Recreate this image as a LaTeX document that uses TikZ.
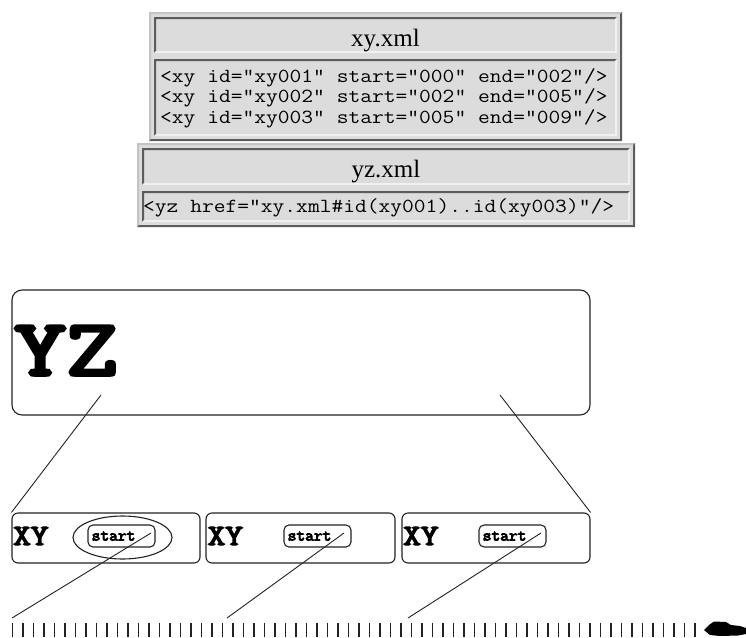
\documentclass[tikz,border=0pt]{standalone}
\usepackage{fontspec}
\usepackage{graphicx}
\setmainfont{Liberation Serif}
\newfontfamily\codefont[FakeStretch=1.143]{Latin Modern Mono}
\newfontfamily\slabfont[FakeBold=4.5]{Latin Modern Mono}
\newfontfamily\slabsmall[FakeBold=5]{Latin Modern Mono}
\usetikzlibrary{shapes.geometric}
\definecolor{tblfill}{HTML}{DCDCDC}
\definecolor{tbllight}{HTML}{C4C4C4}
\definecolor{celllight}{HTML}{F0F0F0}
\definecolor{tbldark}{HTML}{5C5C5C}
\definecolor{ink}{HTML}{222222}
\newcommand\bevelbox[6]{%
  \fill[#5] (#1,#2) -- (#3,#2) -- ({#3-2},{#2+2}) -- ({#1+2},{#2+2}) -- ({#1+2},{#4-2}) -- (#1,#4) -- cycle;
  \fill[#6] (#3,#2) -- (#3,#4) -- (#1,#4) -- ({#1+2},{#4-2}) -- ({#3-2},{#4-2}) -- ({#3-2},{#2+2}) -- cycle;}
\tikzset{
  headtext/.style={anchor=base,inner sep=0,font=\fontsize{25}{25}\selectfont},
  codetext/.style={anchor=base west,inner sep=0,font=\fontsize{20}{20}\codefont},
  rbox/.style={draw=ink,line width=1.1pt,rounded corners=#1,inner sep=0},
  startbox/.style={draw=ink,line width=1.1pt,rounded corners=5pt,inner sep=0,minimum height=22pt,minimum width=67pt},
  conn/.style={draw=ink,line width=0.9pt},
  tickline/.style={draw=ink,line width=1.1pt}
}
\begin{document}
\begin{tikzpicture}[x=1pt,y=-1pt]
\useasboundingbox (0,0) rectangle (746,637);
% ---- xy.xml table
\fill[tblfill] (149,12) rectangle (622,141);
\bevelbox{149}{12}{622}{141}{tbllight}{tbldark}
\bevelbox{154}{17}{617}{53}{tbldark}{celllight}
\bevelbox{154}{59}{617}{136}{tbldark}{celllight}
\node[headtext] (xyhead) at (385.5,46) {xy.xml};
\node[codetext] (xyl1) at (160,82) {<xy id="xy001" start="000" end="002"/>};
\node[codetext] (xyl2) at (160,102.5) {<xy id="xy002" start="002" end="005"/>};
\node[codetext] (xyl3) at (160,123) {<xy id="xy003" start="005" end="009"/>};
% ---- yz.xml table
\fill[tblfill] (137,143) rectangle (635,227);
\bevelbox{137}{143}{635}{227}{tbllight}{tbldark}
\bevelbox{142}{148}{630}{185}{tbldark}{celllight}
\bevelbox{142}{191}{630}{222}{tbldark}{celllight}
\node[headtext] (yzhead) at (386,177) {yz.xml};
\node[codetext] (yzl1) at (143,212) {<yz href="xy.xml\#id(xy001)..id(xy003)"/>};
% ---- YZ box
\node[rbox=10pt,minimum width=578pt,minimum height=125pt] (yzbox) at (301,352.5) {};
\node[anchor=base west,inner sep=0] (yzlabel) at (14,375)
  {\scalebox{1.26}[1]{\fontsize{80}{80}\slabfont YZ}};
% ---- XY boxes
\node[rbox=6pt,minimum width=188pt,minimum height=50pt] (xy1) at (106,538) {};
\node[rbox=6pt,minimum width=189pt,minimum height=50pt] (xy2) at (300.5,538) {};
\node[rbox=6pt,minimum width=188pt,minimum height=50pt] (xy3) at (496,538) {};
\foreach \n/\x in {1/13,2/207.5,3/403}{
  \node[anchor=base west,inner sep=0] (xylab\n) at (\x,545)
    {\scalebox{1.16}[1]{\fontsize{29.5}{29.5}\slabfont XY}};
}
\node[startbox] (st1) at (121.5,536) {};
\node[startbox] (st2) at (317.5,536) {};
\node[startbox] (st3) at (512.5,536) {};
\foreach \n/\x in {1/91.5,2/287.5,3/482.5}{
  \node[anchor=base west,inner sep=0] (stlab\n) at (\x,540.5)
    {\scalebox{1.06}[1]{\fontsize{16}{16}\slabsmall start}};
}
\node[draw=ink,line width=1.1pt,ellipse,minimum width=99pt,minimum height=43pt,inner sep=0] (ell) at (122.5,537.5) {};
% ---- connectors
\coordinate (yzL) at (101,395);
\coordinate (yzR) at (500,395);
\draw[conn] (yzL) -- (xy1.north west);
\draw[conn] (yzR) -- (xy3.north east);
\coordinate (s1) at (151,533);
\coordinate (s2) at (344,533);
\coordinate (s3) at (541,533);
\coordinate (t1) at (12,618);
\coordinate (t2) at (227,618);
\coordinate (t3) at (408,618);
\draw[conn] (s1) -- (t1);
\draw[conn] (s2) -- (t2);
\draw[conn] (s3) -- (t3);
% ---- timeline
\foreach \i in {0,...,65}{
  \draw[tickline] ({12.5+10.5*\i},623) -- ({12.5+10.5*\i},637);
}
\fill[black] (704,630) -- (709,625) -- (714,621.5) -- (726,622) -- (731,625) -- (740,626) -- (746,628)
  -- (746,634) -- (738,635.5) -- (720,636) -- (710,635) -- cycle;
\end{tikzpicture}
\end{document}
